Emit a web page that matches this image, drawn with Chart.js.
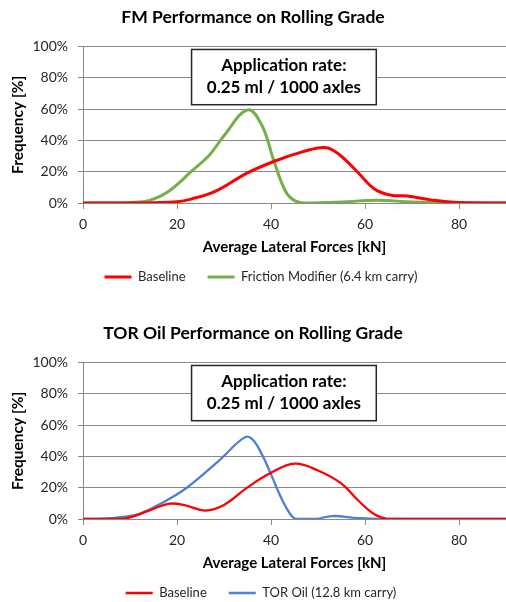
<!DOCTYPE html>
<html>
<head>
<meta charset="utf-8">
<script src="https://cdn.jsdelivr.net/npm/chart.js@4/dist/chart.umd.min.js"></script>
<style>
  html, body { margin: 0; padding: 0; background: #fff; overflow: hidden; }
  .wrap { position: absolute; left: 0; width: 506px; height: 310px; }
</style>
</head>
<body>
<div class="wrap" style="top:0"><canvas id="fmChart"></canvas></div>
<div class="wrap" style="top:316px"><canvas id="torChart"></canvas></div>
<script>
// tick labels / texts
const xTicks = [0, 20, 40, 60, 80];
const yTicks = [0, 20, 40, 60, 80, 100];
const boxLines = ['Application rate:', '0.25 ml / 1000 axles'];

// FM chart - baseline
const fmBaseX = [0, 10, 15, 20, 23, 28, 35, 41, 46.5, 51.5, 54.5, 58.5, 62, 65.5, 69, 74, 80, 90];
const fmBaseY = [0, 0, 0.2, 0.8, 2.5, 7.2, 19.2, 27, 32.5, 35.5, 31, 19.5, 9, 5, 4.4, 2, 0.3, 0];
// FM chart - friction modifier
const fmModX = [0, 8, 11, 14, 18, 23, 27, 30, 35, 38, 40.5, 43, 45, 47.5, 55, 62.5, 70, 78, 90];
const fmModY = [0, 0, 0.5, 1.5, 7, 20, 31, 43, 59.5, 50, 28, 8, 1.5, 0, 0.6, 1.8, 0.6, 0, 0];

// TOR chart - baseline
const torBaseX = [0, 8, 10, 14, 18.5, 22, 26, 30, 35, 40, 45, 50, 55, 58.5, 62, 64.5, 70, 90];
const torBaseY = [0, 0.1, 1, 5.3, 9.8, 8.5, 5.4, 9, 20.2, 29.5, 35.4, 31, 22.6, 12, 3, 0.3, 0, 0];
// TOR chart - TOR oil
const torOilX = [0, 4, 8, 12, 17, 22, 29, 34.3, 36, 38.2, 40, 42.4, 44, 45.3, 49.5, 53, 58.5, 63, 90];
const torOilY = [0, 0.2, 1.2, 3.3, 10.6, 19.8, 37.5, 52, 51, 40.5, 28.5, 12, 3.5, 0, 0, 1.9, 0.6, 0, 0];

function pts(xs, ys) {
  return xs.map((x, i) => ({ x: x, y: ys[i] }));
}

const gridGray = '#8a8a8a';
const font = 'Lato';

// white box with the application rate
const annoBox = {
  id: 'annoBox',
  afterDatasetsDraw(chart, args, opts) {
    const { ctx, scales: { x, y } } = chart;
    const left = x.getPixelForValue(opts.xMin);
    const right = x.getPixelForValue(opts.xMax);
    const top = y.getPixelForValue(opts.yMax);
    const bottom = y.getPixelForValue(opts.yMin);
    ctx.save();
    ctx.fillStyle = '#fff';
    ctx.fillRect(left, top, right - left, bottom - top);
    ctx.lineWidth = 1.5;
    ctx.strokeStyle = '#262626';
    ctx.strokeRect(left, top, right - left, bottom - top);
    ctx.fillStyle = '#000';
    ctx.font = 'bold 17px ' + font;
    ctx.textAlign = 'center';
    ctx.textBaseline = 'middle';
    const cx = (left + right) / 2;
    opts.lines.forEach((t, i) => ctx.fillText(t, cx, top + 16 + i * 22));
    ctx.restore();
  }
};

// nudge legend a bit right like the original
const legendShift = {
  id: 'legendShift',
  afterLayout(chart) {
    chart.legend.left += 8;
    chart.legend.right += 8;
  }
};

function makeChart(id, title, datasets) {
  return new Chart(document.getElementById(id), {
    type: 'line',
    data: { datasets },
    plugins: [annoBox, legendShift],
    options: {
      responsive: true,
      maintainAspectRatio: false,
      animation: false,
      layout: { padding: { left: 0, right: 0, top: 0, bottom: 16.5 } },
      elements: { point: { radius: 0 }, line: { tension: 0.4 } },
      plugins: {
        tooltip: { enabled: false },
        title: {
          display: true,
          text: title,
          color: '#000',
          font: { family: font, size: 17.5, weight: 'bold' },
          padding: { top: 6.5, bottom: 19 }
        },
        legend: {
          position: 'bottom',
          labels: {
            usePointStyle: true,
            pointStyle: 'line',
            pointStyleWidth: 27,
            padding: 22,
            color: '#262626',
            font: { family: font, size: 13 }
          }
        },
        annoBox: { xMin: 23.1, xMax: 62.4, yMin: 62.8, yMax: 98.1, lines: boxLines }
      },
      scales: {
        x: {
          type: 'linear',
          min: 0,
          max: 90,
          afterBuildTicks: s => { s.ticks = xTicks.map(v => ({ value: v })); },
          ticks: { color: '#262626', font: { family: font, size: 14 }, padding: 7 },
          grid: { drawOnChartArea: false, drawTicks: true, tickLength: 6, color: gridGray },
          border: { color: gridGray },
          title: {
            display: true,
            text: 'Average Lateral Forces [kN]',
            color: '#000',
            font: { family: font, size: 15, weight: 'bold' },
            padding: { top: 6, bottom: -8 }
          },
          afterFit: s => { s.height = 45.5; }
        },
        y: {
          min: 0,
          max: 100,
          afterBuildTicks: s => { s.ticks = yTicks.map(v => ({ value: v })); },
          ticks: { color: '#262626', font: { family: font, size: 14 }, padding: 10, callback: v => v + '%' },
          grid: { color: gridGray, tickLength: 5 },
          border: { color: gridGray },
          title: {
            display: true,
            text: 'Frequency [%]',
            color: '#000',
            font: { family: font, size: 15.5, weight: 'bold' },
            padding: { top: 8.5, bottom: 0 }
          },
          afterFit: s => { s.width = 83; }
        }
      }
    }
  });
}

makeChart('fmChart', 'FM Performance on Rolling Grade', [
  { label: 'Baseline', data: pts(fmBaseX, fmBaseY), borderColor: '#ff0000', backgroundColor: '#ff0000', borderWidth: 3, fill: false },
  { label: 'Friction Modifier (6.4 km carry)', data: pts(fmModX, fmModY), borderColor: '#74b04a', backgroundColor: '#74b04a', borderWidth: 3, fill: false }
]);

makeChart('torChart', 'TOR Oil Performance on Rolling Grade', [
  { label: 'Baseline', data: pts(torBaseX, torBaseY), borderColor: '#ff0000', backgroundColor: '#ff0000', borderWidth: 2.3, fill: false },
  { label: 'TOR Oil (12.8 km carry)', data: pts(torOilX, torOilY), borderColor: '#4f80d2', backgroundColor: '#4f80d2', borderWidth: 2.3, fill: false }
]);
</script>
</body>
</html>
